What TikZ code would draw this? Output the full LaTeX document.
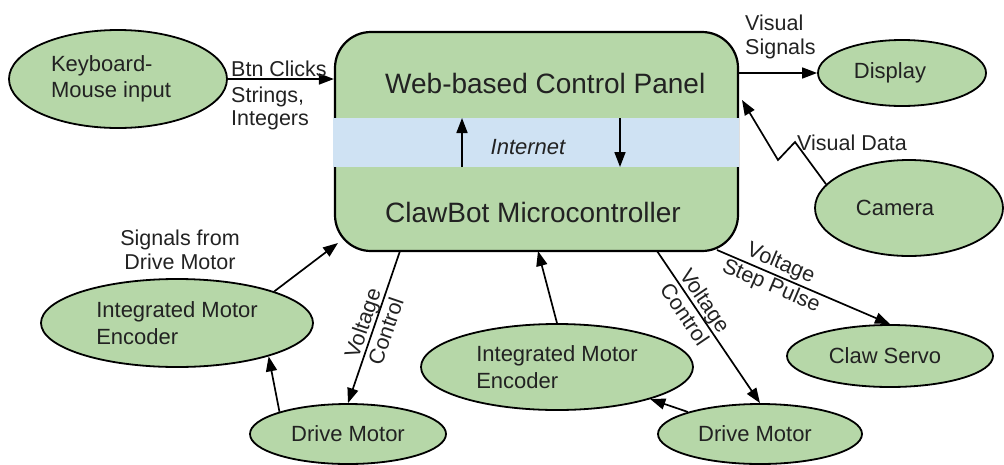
\documentclass[tikz,border=0pt]{standalone}
\usepackage{fontspec}
\setmainfont{Liberation Sans}
\usetikzlibrary{shapes.geometric,arrows.meta}
\definecolor{nodegreen}{HTML}{B6D7A8}
\definecolor{bandblue}{HTML}{CFE2F3}
\definecolor{txt}{HTML}{222222}
\begin{document}
\begin{tikzpicture}[x=1pt,y=-1pt,
  ell/.style={ellipse, draw=black, line width=1.8pt, fill=nodegreen, inner sep=0pt, text=txt, font=\fontsize{22}{26.5}\selectfont, align=left},
  lbl/.style={text=txt, font=\fontsize{21.5}{24.5}\selectfont, inner sep=0pt},
  arr/.style={draw=black, line width=1.7pt, -{Triangle[length=15pt,width=11pt]}},
  bigtxt/.style={text=txt, font=\fontsize{28}{32}\selectfont, inner sep=0pt}
]
\useasboundingbox (0,0) rectangle (1004,464);

% main block
\node[draw=black, line width=2.2pt, fill=nodegreen, rounded corners=36pt, minimum width=403pt, minimum height=219pt, inner sep=0pt] (mc) at (536.5,141.5) {};
\node[fill=bandblue, minimum width=406pt, minimum height=49pt, inner sep=0pt] (band) at (536,142.5) {};
\node[bigtxt, anchor=base west] (web) at (385,93) {Web-based Control Panel};
\node[bigtxt, anchor=base west] (claw) at (385,222) {ClawBot Microcontroller};
\node[text=txt, font=\fontsize{22}{26}\selectfont\itshape, inner sep=0pt, anchor=base] (inet) at (528,154) {Internet};
\coordinate (u1) at (462,167);
\coordinate (u2) at (462,118);
\coordinate (d1) at (620,118);
\coordinate (d2) at (620,167);
\draw[arr] (u1) -- (u2);
\draw[arr] (d1) -- (d2);

% ellipses
\node[ell, minimum width=218pt, minimum height=98pt] (kb) at (118,79) {Keyboard-\\Mouse input\hspace*{14pt}};
\node[ell, minimum width=168pt, minimum height=66pt] (disp) at (902,73) {Display\hspace*{24pt}};
\node[ell, minimum width=188pt, minimum height=96pt] (cam) at (909,208) {Camera\hspace*{28pt}};
\node[ell, minimum width=272pt, minimum height=88pt] (enc1) at (177,323) {Integrated Motor\\Encoder};
\node[ell, minimum width=196pt, minimum height=60pt] (drv1) at (348,434) {Drive Motor};
\node[ell, minimum width=272pt, minimum height=86pt] (enc2) at (557,367) {Integrated Motor\\Encoder};
\node[ell, minimum width=204pt, minimum height=60pt] (drv2) at (760,434) {Drive Motor\hspace*{10pt}};
\node[ell, minimum width=206pt, minimum height=62pt] (servo) at (890,356) {Claw Servo\hspace*{10pt}};

% connectors
\draw[arr] (kb.east) -- (kb.east -| mc.west);
\draw[arr] (mc.east |- disp.west) -- (disp.west);
\coordinate (camin) at (742,100);
\coordinate (zz1) at (795,142);
\coordinate (zz2) at (778,160);
\draw[arr] (cam.164) -- (zz1) -- (zz2) -- (camin);
\coordinate (mcE1) at (338,243);
\draw[arr] (enc1.18) -- (mcE1);
\draw[arr] (drv1.162) -- (enc1.-20);
\coordinate (mcS1) at (400,251);
\draw[arr] (mcS1) -- (drv1.north) node[lbl, sloped, midway, align=center] (vc1) {Voltage\\Control};
\coordinate (mcN2) at (538,251);
\draw[arr] (enc2.north) -- (mcN2);
\coordinate (mcS2) at (657,251);
\draw[arr] (mcS2) -- (drv2.north) node[lbl, sloped, pos=0.37, align=center] (vc2) {Voltage\\Control};
\draw[arr] (drv2.163) -- (enc2.-19);
\coordinate (mcS3) at (717,250);
\draw[arr] (mcS3) -- (servo.north) node[lbl, sloped, pos=0.34, align=center] (vsp) {Voltage\\Step Pulse};

% labels
\node[lbl, anchor=base west] (btn) at (231,76) {Btn Clicks};
\node[lbl, anchor=base west] (str) at (231,102) {Strings,};
\node[lbl, anchor=base west] (int) at (231,125) {Integers};
\node[lbl, align=center] (sig) at (180,250) {Signals from\\Drive Motor};
\node[lbl, align=left, anchor=west] (vs) at (745,37) {Visual\\Signals};
\node[lbl, anchor=west] (vd) at (797,143) {Visual Data};
\end{tikzpicture}
\end{document}
